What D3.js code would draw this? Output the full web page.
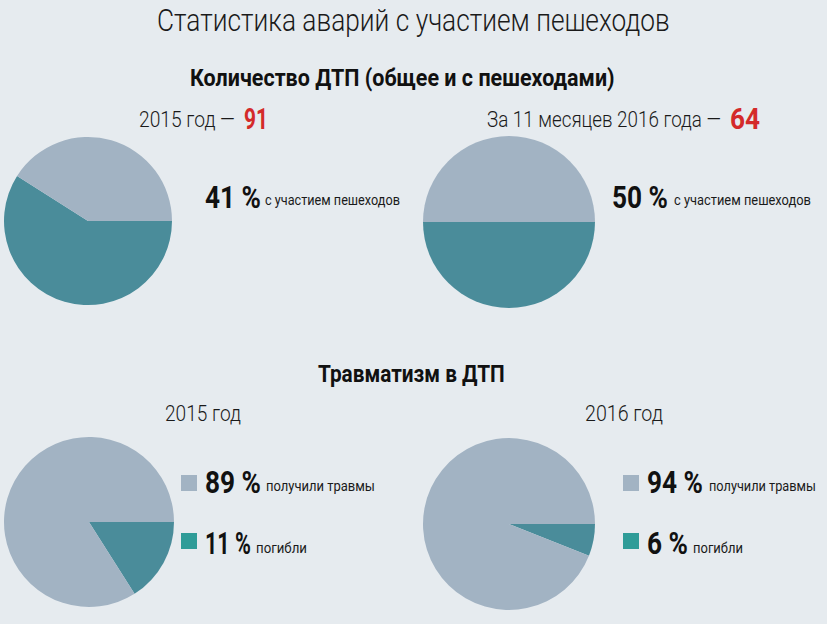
<!DOCTYPE html>
<html><head><meta charset="utf-8">
<script src="https://cdn.jsdelivr.net/npm/d3@7"></script>
<style>
body{margin:0;background:#e6ebef;}
svg{display:block;}
text{font-family:"Roboto","DejaVu Sans Condensed",sans-serif;}
</style></head><body>
<svg id="c" width="827" height="624"></svg>
<script>
// ---- data ----
const title = "Статистика аварий с участием пешеходов";
const section1 = "Количество ДТП (общее и с пешеходами)";
const section2 = "Травматизм в ДТП";
const topLabels = ["2015 год —", "За 11 месяцев 2016 года —"];
const topTotals = ["91", "64"];
const topCategories = ["без пешеходов", "с участием пешеходов"];
const topShares2015 = [59, 41];
const topShares2016 = [50, 50];
const topPctLabels = ["41 %", "50 %"];
const bottomLabels = ["2015 год", "2016 год"];
const bottomCategories = ["погибли", "получили травмы"];
const bottomShares2015 = [16, 84];   // slice as drawn in the picture
const bottomShares2016 = [6, 94];
const injuredPct = ["89 %", "94 %"];
const killedPct = ["11 %", "6 %"];

const svg = d3.select("#c");
svg.append("rect").attr("width",827).attr("height",624).attr("fill","#e6ebef");

const color = d3.scaleOrdinal().range(["#4a8c9a", "#a2b3c3"]);
const pie = d3.pie().sort(null).value(d => d).startAngle(Math.PI/2).endAngle(Math.PI/2 + 2*Math.PI);

function drawPie(vals, cx, cy, r){
  const arc = d3.arc().innerRadius(0).outerRadius(r);
  const g = svg.append("g").attr("transform", `translate(${cx},${cy})`);
  g.selectAll("path").data(pie(vals)).join("path")
    .attr("d", arc).attr("fill", (d,i) => color(i));
}
drawPie(topShares2015, 88, 221, 84);
drawPie(topShares2016, 509, 222, 86);
drawPie(bottomShares2015, 89, 522, 85);
drawPie(bottomShares2016, 509, 524, 86);

// text placed at (x, baseline y), horizontally scaled to width w
function txt(s, x, y, size, weight, fill, w){
  const t = svg.append("text").attr("x", 0).attr("y", 0)
    .attr("font-size", size).attr("font-weight", weight || "normal")
    .attr("fill", fill || "#111").text(s);
  const len = t.node().getComputedTextLength();
  const k = w && len ? w / len : 1;
  t.attr("transform", `translate(${x},${y}) scale(${k},1)`);
  return t;
}

txt(title, 157, 31, 31, 300, "#1a1a1a", 513);
txt(section1, 190, 86, 23, "bold", "#111", 425);
txt(topLabels[0], 139, 127, 22, 300, "#1a1a1a", 96);
txt(topTotals[0], 244, 129, 29, "bold", "#d42a2a", 24);
txt(topLabels[1], 487, 127, 22, 300, "#1a1a1a", 234);
txt(topTotals[1], 730, 129, 29, "bold", "#d42a2a", 30);

txt(topPctLabels[0], 205, 208, 31, "bold", "#111", 56);
txt(topCategories[1], 265, 205, 15, "normal", "#1a1a1a", 135);
txt(topPctLabels[1], 612, 208, 31, "bold", "#111", 56);
txt(topCategories[1], 674, 205, 15, "normal", "#1a1a1a", 137);

txt(section2, 318, 382, 23, "bold", "#111", 187);
txt(bottomLabels[0], 165, 421, 22, 300, "#1a1a1a", 76);
txt(bottomLabels[1], 585, 421, 22, 300, "#1a1a1a", 78);

const legendFill = ["#a2b3c3", "#2f9c98"];
function legend(x, y, fill){
  svg.append("rect").attr("x", x).attr("y", y).attr("width", 16).attr("height", 16).attr("fill", fill);
}
legend(181, 475, legendFill[0]);
legend(181, 533, legendFill[1]);
legend(623, 475, legendFill[0]);
legend(623, 533, legendFill[1]);

txt(injuredPct[0], 205, 493, 31, "bold", "#111", 56);
txt(bottomCategories[1], 266, 491, 15, "normal", "#1a1a1a", 109);
txt(killedPct[0], 205, 554, 31, "bold", "#111", 46);
txt(bottomCategories[0], 256, 553, 15, "normal", "#1a1a1a", 51);
txt(injuredPct[1], 647, 493, 31, "bold", "#111", 56);
txt(bottomCategories[1], 709, 491, 15, "normal", "#1a1a1a", 107);
txt(killedPct[1], 647, 554, 31, "bold", "#111", 41);
txt(bottomCategories[0], 693, 553, 15, "normal", "#1a1a1a", 50);
</script>
</body></html>
